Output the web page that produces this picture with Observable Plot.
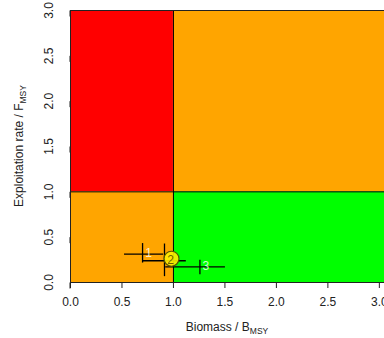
<!DOCTYPE html>
<html><head><meta charset="utf-8">
<script src="https://cdn.jsdelivr.net/npm/d3@7"></script>
<script src="https://cdn.jsdelivr.net/npm/@observablehq/plot@0.6"></script>
<style>body{margin:0;background:#fff;} #chart{position:absolute;left:0;top:0;}</style>
</head><body><div id="chart"></div>
<script>
// Kobe zones
const zoneX1 = [0, 1, 0, 1];
const zoneX2 = [1, 3.05, 1, 3.05];
const zoneY1 = [1, 1, 0, 0];
const zoneY2 = [3, 3, 1, 1];
const zoneColor = ["#FF0000", "#FFA500", "#FFA500", "#00FF00"];
// points (index, B/Bmsy, F/Fmsy) with CI
const ptLabel = ["1", "2", "3"];
const ptB = [0.70, 0.913, 1.257];
const ptF = [0.314, 0.24, 0.173];
const bLo = [0.52, 0.70, 0.92];
const bHi = [0.90, 1.12, 1.50];
const fLo = [0.22, 0.07, 0.09];
const fHi = [0.435, 0.43, 0.25];
const currentIdx = 1;
const xTicks = [0, 0.5, 1, 1.5, 2, 2.5, 3];
const yTicks = [0, 0.5, 1, 1.5, 2, 2.5, 3];

const zones = zoneX1.map((d, i) => ({x1: d, x2: zoneX2[i], y1: zoneY1[i], y2: zoneY2[i], c: zoneColor[i]}));
const pts = ptLabel.map((l, i) => ({l, b: ptB[i], f: ptF[i], bl: bLo[i], bh: bHi[i], fl: fLo[i], fh: fHi[i], cur: i === currentIdx}));

const plot = Plot.plot({
  width: 384, height: 338,
  marginLeft: 70, marginRight: 0, marginTop: 10, marginBottom: 56,
  style: {fontFamily: "'Liberation Sans', Arial, sans-serif", fontSize: "12px", color: "#222", background: "#fff"},
  x: {domain: [0, 3.05]},
  y: {domain: [0, 3]},
  marks: [
    Plot.rect(zones, {x1: "x1", x2: "x2", y1: "y1", y2: "y2", fill: "c"}),
    Plot.ruleX([1], {y1: 0, y2: 3, stroke: "#000"}),
    Plot.ruleY([1], {x1: 0, x2: 3.05, stroke: "#000"}),
    Plot.frame({stroke: "#222"}),
    Plot.link(pts, {x1: "bl", x2: "bh", y1: "f", y2: "f", stroke: "#000", strokeWidth: 1.3}),
    Plot.link(pts, {x1: "b", x2: "b", y1: "fl", y2: "fh", stroke: "#000", strokeWidth: 1.3}),
    Plot.dot(pts.filter(d => d.cur), {x: "b", y: "f", r: 7.5, dx: 7, dy: -2, fill: "#FFEE00", fillOpacity: 0.9, stroke: "#555500", strokeWidth: 1.2}),
    Plot.text(pts, {x: "b", y: "f", text: "l", dx: 6, dy: -1, fontSize: 12, fontWeight: d => d.cur ? "bold" : "normal", fill: d => d.cur ? "#5a5a00" : "#fff", fillOpacity: d => d.cur ? 0.95 : 0.8}),
    Plot.axisX({ticks: xTicks, tickFormat: d3.format(".1f"), tickSize: 6, tickPadding: 9, label: null, fontSize: 12}),
    Plot.axisY({ticks: yTicks, tickFormat: d3.format(".1f"), tickSize: 6, tickPadding: 15, rotate: -90, textAnchor: "middle", label: null, fontSize: 12})
  ]
});
document.getElementById("chart").appendChild(plot);

const svg = d3.select(plot);
const xt = svg.append("text").attr("x", 227).attr("y", 331).attr("text-anchor", "middle")
  .attr("font-size", 12).attr("fill", "#222");
xt.append("tspan").text("Biomass / B");
xt.append("tspan").attr("font-size", 8.5).attr("dy", 3).text("MSY");
const yt = svg.append("text").attr("transform", "translate(23,146) rotate(-90)").attr("text-anchor", "middle")
  .attr("font-size", 12).attr("fill", "#222");
yt.append("tspan").text("Exploitation rate / F");
yt.append("tspan").attr("font-size", 8.5).attr("dy", 3).text("MSY");
</script></body></html>
